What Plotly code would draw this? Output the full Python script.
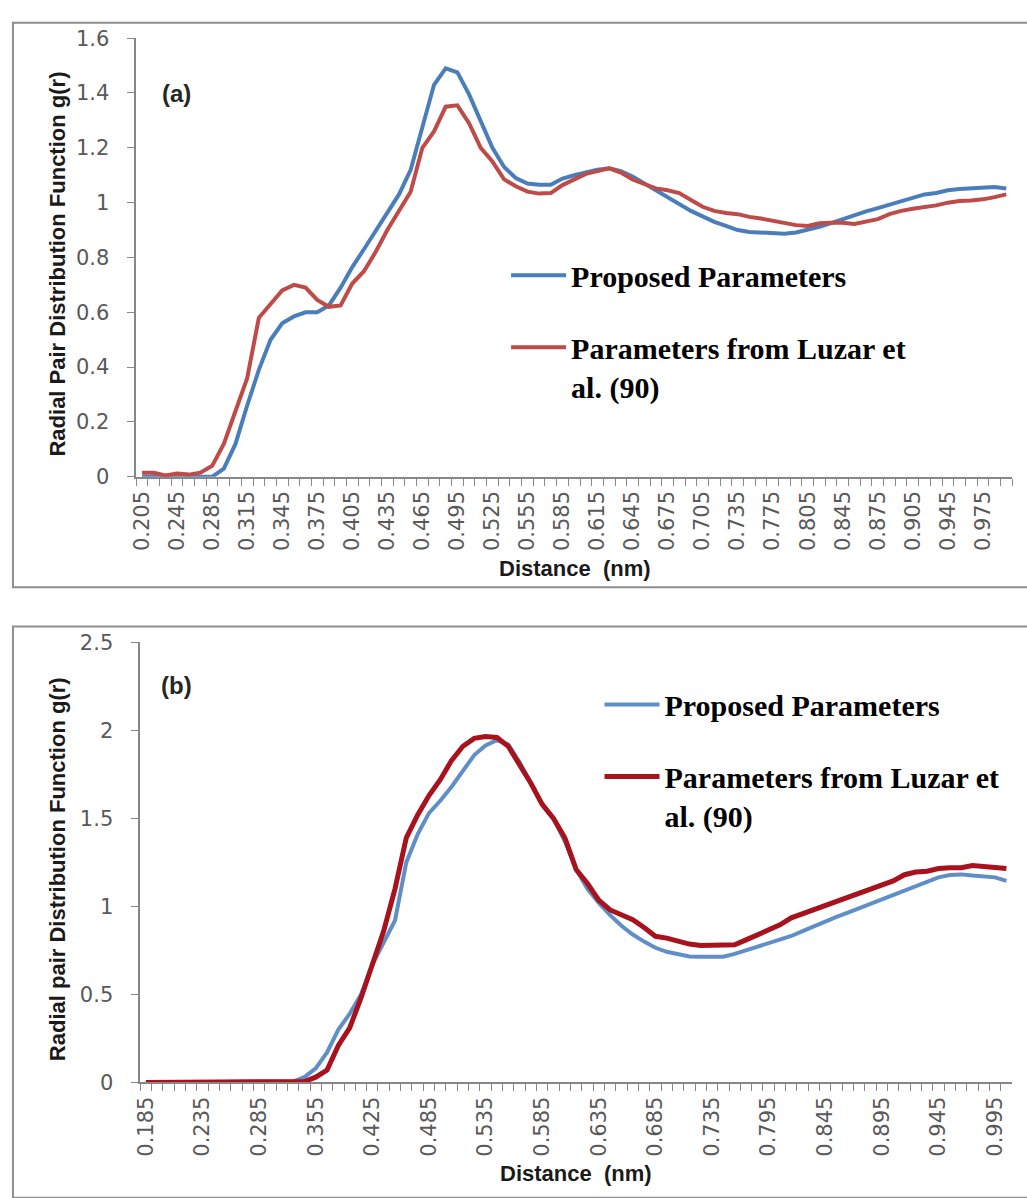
import plotly.graph_objects as go

# ---- data -------------------------------------------------------------
# Panel (a): distance categories (nm) and g(r) for both parameter sets
dist_a = ["0.205", "0.215", "0.235", "0.245", "0.255", "0.275", "0.285", "0.295", "0.305", "0.315",
          "0.325", "0.335", "0.345", "0.355", "0.365", "0.375", "0.385", "0.395", "0.405", "0.415",
          "0.425", "0.435", "0.445", "0.455", "0.465", "0.475", "0.485", "0.495", "0.505", "0.515",
          "0.525", "0.535", "0.545", "0.555", "0.565", "0.575", "0.585", "0.595", "0.605", "0.615",
          "0.625", "0.635", "0.645", "0.655", "0.665", "0.675", "0.685", "0.695", "0.705", "0.715",
          "0.725", "0.735", "0.755", "0.765", "0.775", "0.785", "0.795", "0.805", "0.825", "0.835",
          "0.845", "0.855", "0.865", "0.875", "0.885", "0.895", "0.905", "0.925", "0.935", "0.945",
          "0.955", "0.965", "0.975", "0.985", "0.995"]

proposed_a = [0, 0, 0, 0, 0, 0, 0,
              0.03, 0.12, 0.26, 0.39, 0.50, 0.56, 0.585, 0.60, 0.60,
              0.625, 0.69, 0.765, 0.83, 0.895, 0.965, 1.03, 1.12, 1.28, 1.43,
              1.49, 1.475, 1.395, 1.30, 1.20, 1.13, 1.09, 1.07, 1.065, 1.065,
              1.088, 1.10, 1.11, 1.12, 1.125, 1.115, 1.095, 1.07, 1.045, 1.02,
              0.995, 0.97, 0.95, 0.93, 0.915, 0.90, 0.893, 0.891, 0.887, 0.887,
              0.891, 0.90, 0.912, 0.925, 0.94, 0.955, 0.968, 0.98, 0.993, 1.005,
              1.02, 1.03, 1.035, 1.045, 1.05, 1.053, 1.055, 1.057, 1.052]

luzar_a = [0.015, 0.015, 0.005, 0.012, 0.008, 0.015, 0.04,
           0.12, 0.24, 0.36, 0.58, 0.63, 0.68, 0.70, 0.69, 0.645,
           0.62, 0.625, 0.705, 0.75, 0.82, 0.90, 0.97, 1.04, 1.20, 1.26,
           1.35, 1.355, 1.29, 1.20, 1.15, 1.085, 1.06, 1.04, 1.033, 1.035,
           1.064, 1.085, 1.105, 1.115, 1.125, 1.11, 1.085, 1.068, 1.052, 1.045,
           1.035, 1.01, 0.985, 0.97, 0.962, 0.958, 0.948, 0.942, 0.933, 0.925,
           0.918, 0.915, 0.925, 0.927, 0.927, 0.922, 0.93, 0.94, 0.958, 0.97,
           0.978, 0.983, 0.99, 1.0, 1.006, 1.008, 1.012, 1.02, 1.03]

# Panel (b)
dist_b = ["0.185", "0.195", "0.205", "0.215", "0.225", "0.235", "0.245", "0.255", "0.265", "0.275",
          "0.285", "0.295", "0.315", "0.325", "0.345", "0.355", "0.365", "0.385", "0.395", "0.415",
          "0.425", "0.435", "0.445", "0.465", "0.475", "0.485", "0.495", "0.505", "0.515", "0.525",
          "0.535", "0.545", "0.555", "0.565", "0.575", "0.585", "0.595", "0.605", "0.615", "0.625",
          "0.635", "0.645", "0.655", "0.665", "0.675", "0.685", "0.695", "0.705", "0.715", "0.725",
          "0.735", "0.745", "0.755", "0.775", "0.785", "0.795", "0.805", "0.815", "0.825", "0.835",
          "0.845", "0.855", "0.865", "0.875", "0.885", "0.895", "0.905", "0.915", "0.925", "0.935",
          "0.945", "0.955", "0.965", "0.975", "0.985", "0.995", "1.005"]

proposed_b = [0, 0, 0, 0, 0, 0, 0, 0, 0, 0, 0, 0, 0,
              0.005, 0.03, 0.08, 0.17, 0.30, 0.39, 0.50, 0.67, 0.80, 0.92,
              1.25, 1.41, 1.53, 1.60, 1.68, 1.77, 1.86, 1.915, 1.945, 1.92,
              1.82, 1.70, 1.58, 1.50, 1.37, 1.21, 1.10, 1.02, 0.95, 0.89,
              0.84, 0.80, 0.765, 0.742, 0.727, 0.716, 0.714, 0.714, 0.714, 0.73,
              0.75, 0.768, 0.787, 0.807, 0.832, 0.86, 0.888, 0.915, 0.94, 0.965,
              0.99, 1.02, 1.045, 1.07, 1.095, 1.12, 1.145, 1.165, 1.178, 1.182,
              1.175, 1.17, 1.165, 1.145]

luzar_b = [0, 0, 0, 0, 0, 0, 0, 0, 0, 0, 0, 0, 0, 0,
           0.005, 0.03, 0.07, 0.21, 0.31, 0.48, 0.66, 0.86, 1.10, 1.39,
           1.52, 1.63, 1.72, 1.83, 1.91, 1.955, 1.965, 1.96, 1.91, 1.81,
           1.70, 1.58, 1.50, 1.39, 1.21, 1.13, 1.035, 0.98, 0.95, 0.925,
           0.88, 0.83, 0.82, 0.80, 0.786, 0.778, 0.777, 0.777, 0.782, 0.81,
           0.84, 0.87, 0.895, 0.935, 0.958, 0.978, 1.0, 1.03, 1.05, 1.07,
           1.095, 1.12, 1.145, 1.18, 1.195, 1.20, 1.215, 1.22, 1.22, 1.232,
           1.226, 1.222, 1.215]

yticks_a = [0, 0.2, 0.4, 0.6, 0.8, 1.0, 1.2, 1.4, 1.6]
yticktext_a = ["0", "0.2", "0.4", "0.6", "0.8", "1", "1.2", "1.4", "1.6"]
yticks_b = [0, 0.5, 1.0, 1.5, 2.0, 2.5]
yticktext_b = ["0", "0.5", "1", "1.5", "2", "2.5"]

name_prop = "Proposed Parameters"
name_luzar = "Parameters from Luzar et<br>al. (90)"

# ---- styling ----------------------------------------------------------
W, H = 1027, 1198
TICK_FONT = dict(family="DejaVu Sans", size=21, color="#595959")
TITLE_FONT = dict(family="Liberation Sans", size=22, color="#1a1a1a", weight="bold")
LEG_FONT = dict(family="Liberation Serif", size=30, color="#000000", weight="bold")
AXIS_GREY = "#878787"


def fx(p):
    return p / W


def fy(p):
    return 1 - p / H


fig = go.Figure()

fig.add_trace(go.Scatter(x=dist_a, y=proposed_a, mode="lines", name=name_prop,
                         line=dict(color="#4A7EBB", width=4), xaxis="x", yaxis="y",
                         legend="legend", legendgroup="a1"))
fig.add_trace(go.Scatter(x=dist_a, y=luzar_a, mode="lines", name=name_luzar,
                         line=dict(color="#BE4B48", width=4), xaxis="x", yaxis="y",
                         legend="legend", legendgroup="a2"))
fig.add_trace(go.Scatter(x=dist_b, y=proposed_b, mode="lines", name=name_prop,
                         line=dict(color="#5F8FC6", width=4), xaxis="x2", yaxis="y2",
                         legend="legend2", legendgroup="b1"))
fig.add_trace(go.Scatter(x=dist_b, y=luzar_b, mode="lines", name=name_luzar,
                         line=dict(color="#A8121C", width=5), xaxis="x2", yaxis="y2",
                         legend="legend2", legendgroup="b2"))


def xaxis_cfg(cats, every, domain, anchor):
    return dict(type="category", domain=domain, anchor=anchor,
                range=[-0.5, len(cats) - 0.5],
                tickmode="array", tickvals=cats,
                ticktext=[c if i % every == 0 else "" for i, c in enumerate(cats)],
                tickson="boundaries", ticks="outside", ticklen=7, tickwidth=1.3,
                tickcolor=AXIS_GREY, tickangle=-90, tickfont=TICK_FONT,
                showline=True, linecolor=AXIS_GREY, linewidth=1.5,
                showgrid=False, zeroline=False, ticklabelstandoff=4)


def yaxis_cfg(vals, text, domain, anchor):
    return dict(domain=domain, anchor=anchor, range=[vals[0], vals[-1]],
                tickmode="array", tickvals=vals, ticktext=text,
                ticks="outside", ticklen=7, tickwidth=1.3, tickcolor=AXIS_GREY,
                tickfont=TICK_FONT, showline=True, linecolor=AXIS_GREY, linewidth=1.5,
                showgrid=False, zeroline=False, ticklabelstandoff=14)


legend_common = dict(font=LEG_FONT, bgcolor="rgba(0,0,0,0)", borderwidth=0,
                     xanchor="left", yanchor="top", valign="top",
                     traceorder="grouped", tracegroupgap=30, itemwidth=55)

fig.update_layout(
    width=W, height=H,
    margin=dict(l=0, r=0, t=0, b=0),
    paper_bgcolor="white", plot_bgcolor="white",
    showlegend=True,
    xaxis=xaxis_cfg(dist_a, 3, [fx(131), fx(1012)], "y"),
    yaxis=yaxis_cfg(yticks_a, yticktext_a, [fy(474.3), fy(26.7)], "x"),
    xaxis2=xaxis_cfg(dist_b, 5, [fx(135), fx(1012)], "y2"),
    yaxis2=yaxis_cfg(yticks_b, yticktext_b, [fy(1092.3), fy(643.3)], "x2"),
    legend=dict(x=fx(503), y=fy(242), **legend_common),
    legend2=dict(x=fx(597), y=fy(680), **legend_common),
)

# chart-area frames around each panel
frame = dict(type="rect", xref="paper", yref="paper", line=dict(color="#8e8e8e", width=2),
             fillcolor="rgba(0,0,0,0)", layer="below")
fig.add_shape(x0=fx(7), x1=1.01, y0=fy(587), y1=fy(11), **frame)
fig.add_shape(x0=fx(7), x1=1.01, y0=-0.01, y1=fy(627), **frame)

# axis titles and panel labels
ann = []
ann.append(dict(text="Radial Pair Distribution Function g(r)", x=fx(52), y=fy(257),
                textangle=-90, font=TITLE_FONT))
ann.append(dict(text="Radial pair Distribution Function g(r)", x=fx(52), y=fy(875),
                textangle=-90, font=TITLE_FONT))
ann.append(dict(text="Distance  (nm)", x=fx(572), y=fy(568), font=TITLE_FONT))
ann.append(dict(text="Distance  (nm)", x=fx(573), y=fy(1185), font=TITLE_FONT))
ann.append(dict(text="(a)", x=fx(171), y=fy(83),
                font=dict(family="Liberation Sans", size=24, color="#262626", weight="bold")))
ann.append(dict(text="(b)", x=fx(171), y=fy(687),
                font=dict(family="Liberation Sans", size=24, color="#262626", weight="bold")))
for a in ann:
    fig.add_annotation(xref="paper", yref="paper", showarrow=False,
                       xanchor="center", yanchor="middle", **a)

fig.write_html("out.html")
